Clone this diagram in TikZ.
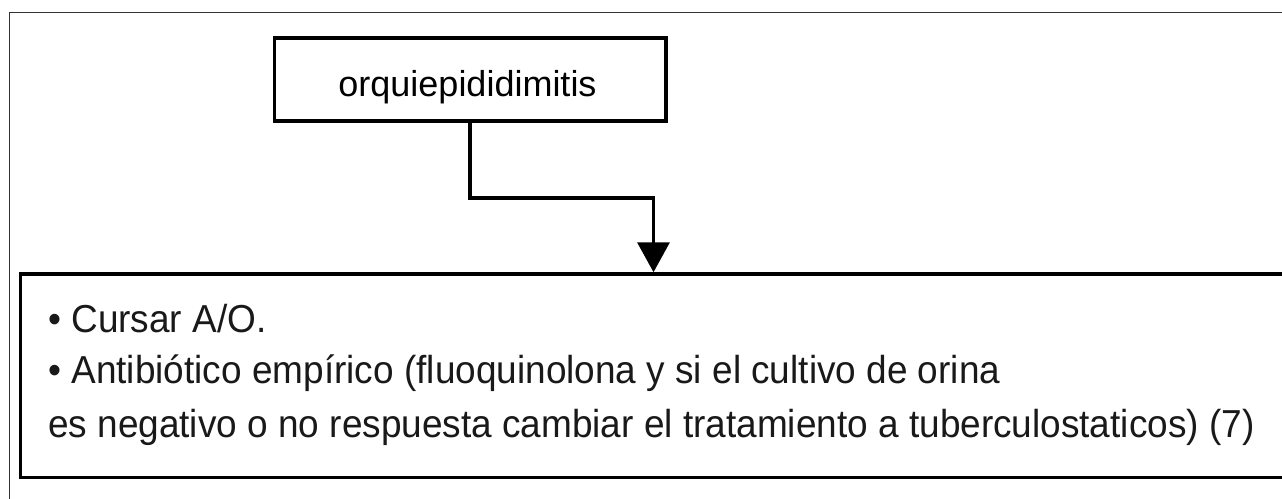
\documentclass[tikz,border=0pt]{standalone}
\usepackage{fontspec}
\setmainfont{Liberation Sans}
\newfontfamily\bodyfont[FakeStretch=0.948]{Liberation Sans}
\usetikzlibrary{arrows.meta}
\begin{document}
\begin{tikzpicture}[x=1pt,y=-1pt,
  frameline/.style={draw=black!80, line width=1.5pt},
  boxstyle/.style={draw=black, line width=3.5pt, rectangle, inner sep=0pt},
  titletext/.style={inner sep=0pt, anchor=base, text=black, font=\fontsize{36}{43}\selectfont},
  bodytext/.style={inner sep=0pt, anchor=base west, text=black!90, font=\bodyfont\fontsize{39}{52}\selectfont},
  connector/.style={draw=black, line width=3.5pt, -{Triangle[length=30pt,width=32pt]}}]
\clip (0,0) rectangle (1282,498);
\fill[white] (0,0) rectangle (1282,498);
\draw[frameline] (9.5,12.3) rectangle (1320,530);
% top box
\node[boxstyle, minimum width=391.5pt, minimum height=83pt] (topbox) at (470,79.5) {};
\node[titletext] (title) at (467.5,96) {orquiepididimitis};
% bottom box
\node[boxstyle, minimum width=1263pt, minimum height=203.5pt] (botbox) at (652,375.75) {};
\node[bodytext] (l1) at (48,332) {• Cursar A/O.};
\node[bodytext] (l2) at (48,383) {• Antibiótico empírico (fluoquinolona y si el cultivo de orina};
\node[bodytext] (l3) at (48,437) {es negativo o no respuesta cambiar el tratamiento a tuberculostaticos) (7)};
% connector
\coordinate (bend) at (653.5,198);
\draw[connector] (topbox.south) |- (bend) -- (bend |- botbox.north);
\end{tikzpicture}
\end{document}
